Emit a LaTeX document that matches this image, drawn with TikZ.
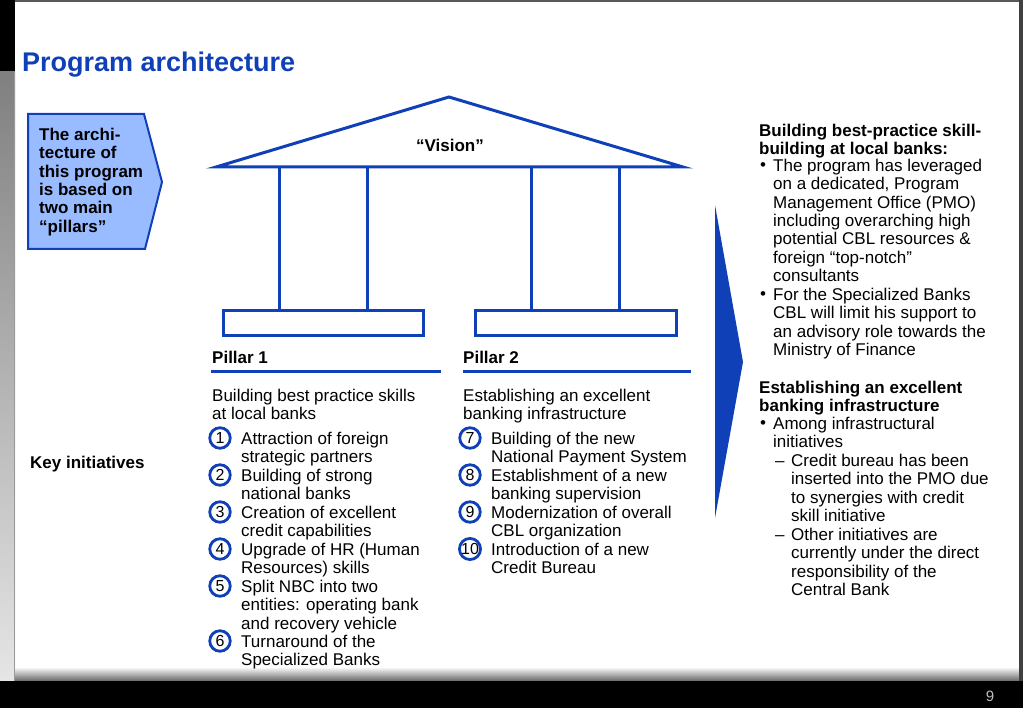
\documentclass[tikz,border=0pt]{standalone}
\usepackage{fontspec}
\setmainfont{Liberation Sans}
\usetikzlibrary{positioning}
\definecolor{pblue}{RGB}{16,64,184}
\definecolor{boxblue}{RGB}{153,187,255}

\begin{document}
\begin{tikzpicture}[x=1pt,y=-1pt,
		txt/.style={anchor=base west,inner sep=0pt,font=\fontsize{17}{18.45}\selectfont},
		btxt/.style={txt,font=\fontsize{17}{18.45}\selectfont\bfseries},
		par/.style={anchor=north west,inner sep=0pt,align=left,font=\fontsize{17}{18.45}\selectfont},
		bpar/.style={par,font=\fontsize{17}{18.45}\selectfont\bfseries},
		num/.style={circle,draw=pblue,line width=2.8pt,inner sep=0pt,minimum size=20.5pt,font=\fontsize{16}{16}\selectfont},
		temple/.style={draw=pblue,line width=3pt}]
		\useasboundingbox (0,0) rectangle (1023,708);
		% frame of the slide
		\fill[black!65] (0,0) rectangle (1023,2);
		\fill[black] (0,0) rectangle (15,72);
		\shade[top color=black!50,bottom color=black!10] (0,72) rectangle (15,681);
		\fill[black!40] (14,72) rectangle (15,681);
		\shade[top color=white,bottom color=black!60] (15,667) rectangle (1019,681);
		\fill[black] (0,681) rectangle (1023,708);
		\fill[black!75] (1019,0) rectangle (1023,681);
		\node[anchor=base,inner sep=0pt,text=black!25,font=\fontsize{15}{15}\selectfont] (pagenum) at (990,701) {9};
		% title
		\node[anchor=base west,inner sep=0pt,text=pblue,font=\fontsize{27}{30}\selectfont\bfseries] (title) at (22,72) {Program architecture};
		% left box
		\draw[draw=pblue,fill=boxblue,line width=2pt] (28,114) -- (144,114) -- (162,182) -- (145,249) -- (28,249) -- cycle;
		\node[bpar] (intro) at (39,127.6) {The archi-\\tecture of\\this program\\is based on\\two main\\“pillars”};
		% temple
		\draw[temple,fill=white] (449,97) -- (683,167) -- (216,167) -- cycle;
		\foreach \x in {279,367,531,619}
			\draw[temple] (\x,167) -- (\x,311);
		\draw[temple] (223,311) rectangle (423,336);
		\draw[temple] (475,311) rectangle (676,336);
		\node[btxt,anchor=base] (vision) at (450,152) {“Vision”};
		% pillars
		\node[btxt] (pillar1) at (212,364) {Pillar 1};
		\node[btxt] (pillar2) at (463,364) {Pillar 2};
		\draw[pblue,line width=3pt] (211,372) -- (441,372);
		\draw[pblue,line width=3pt] (463,372) -- (691,372);
		\node[par] (goal1) at (212,388.6) {Building best practice skills\\at local banks};
		\node[par] (goal2) at (463,388.6) {Establishing an excellent\\banking infrastructure};
		\node[btxt] (keyinit) at (30,468) {Key initiatives};
		% initiatives
		\foreach \n/\y/\t in {1/438/{Attraction of foreign\\strategic partners},
				2/475/{Building of strong\\national banks},
				3/512/{Creation of excellent\\credit capabilities},
				4/549/{Upgrade of HR (Human\\Resources) skills},
				5/586/{Split NBC into two\\entities: operating bank\\and recovery vehicle},
				6/641/{Turnaround of the\\Specialized Banks}}{
			\node[num] (n\n) at (220,\y) {\n};
			\node[par] (i\n) at (241,\y-6.4) {\t};
		}
		\foreach \n/\y/\t in {7/438/{Building of the new\\National Payment System},
				8/475/{Establishment of a new\\banking supervision},
				9/512/{Modernization of overall\\CBL organization},
				10/549/{Introduction of a new\\Credit Bureau}}{
			\node[num] (n\n) at (470,\y) {\n};
			\node[par] (i\n) at (491,\y-6.4) {\t};
		}
		% arrow
		\fill[pblue] (715,205) -- (743,362) -- (715,518) -- cycle;
		% comments on the right
		\node[bpar] (head1) at (759,123.6) {Building best-practice skill-\\building at local banks:};
		\node[txt] (dot1) at (760,171) {•};
		\node[par] (c1) at (773,158.6) {The program has leveraged\\on a dedicated, Program\\Management Office (PMO)\\including overarching high\\potential CBL resources \&\\foreign “top-notch”\\consultants};
		\node[txt] (dot2) at (760,300) {•};
		\node[par] (c2) at (773,287.6) {For the Specialized Banks\\CBL will limit his support to\\an advisory role towards the\\Ministry of Finance};
		\node[bpar] (head2) at (759,380.6) {Establishing an excellent\\banking infrastructure};
		\node[txt] (dot3) at (760,429) {•};
		\node[par] (c3) at (773,416.6) {Among infrastructural\\initiatives};
		\node[txt] (dash1) at (775,466) {–};
		\node[par] (c4) at (791,453.6) {Credit bureau has been\\inserted into the PMO due\\to synergies with credit\\skill initiative};
		\node[txt] (dash2) at (775,540) {–};
		\node[par] (c5) at (791,527.6) {Other initiatives are\\currently under the direct\\responsibility of the\\Central Bank};
	\end{tikzpicture}
\end{document}
